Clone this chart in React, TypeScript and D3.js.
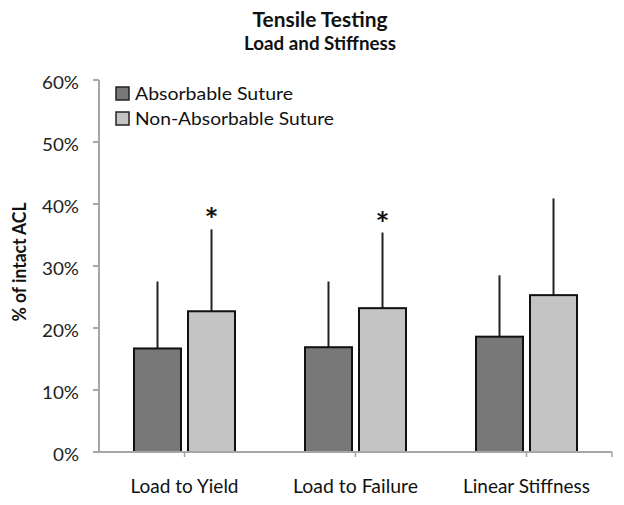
import React from "react";
import * as d3 from "d3";

const categories = ["Load to Yield", "Load to Failure", "Linear Stiffness"];
const categoryLabelWidths = [108, 125, 127];
const seriesNames = ["Absorbable Suture", "Non-Absorbable Suture"];
const legendWidths = [158, 199];
const absorbable = [16.7, 16.9, 18.6];
const absorbableSD = [10.8, 10.6, 9.9];
const nonAbsorbable = [22.7, 23.2, 25.3];
const nonAbsorbableSD = [13.2, 12.2, 15.6];
const significant = [true, true, false];
const yTicks = [0, 10, 20, 30, 40, 50, 60];

const W = 624;
const H = 505;
const FONT = "Lato, 'Open Sans', sans-serif";
const fills = ["#787878", "#c4c4c4"];

export default function App() {
  const x = d3.scaleBand<string>().domain(categories).range([99, 612]);
  const y = d3.scaleLinear().domain([0, 60]).range([452, 80]);
  const x1 = d3
    .scaleBand<string>()
    .domain(seriesNames)
    .range([-50.5, 50.5])
    .paddingInner(0.13);

  const values = [absorbable, nonAbsorbable];
  const sds = [absorbableSD, nonAbsorbableSD];

  const xTickPos = [...categories.map((c) => (x(c) as number) + x.bandwidth() / 2), 612];

  return (
    <svg
      width={W}
      height={H}
      style={{ position: "absolute", left: 0, top: 0, background: "#fff" }}
      fontFamily={FONT}
    >
      <rect width={W} height={H} fill="#fff" />
      {/* Titles */}
      <text
        x={320}
        y={27}
        textAnchor="middle"
        fontWeight="bold"
        fontSize={21}
        fill="#111"
        textLength={135}
        lengthAdjust="spacingAndGlyphs"
      >
        Tensile Testing
      </text>
      <text
        x={320}
        y={50}
        textAnchor="middle"
        fontWeight="bold"
        fontSize={18}
        fill="#111"
        textLength={152}
        lengthAdjust="spacingAndGlyphs"
      >
        Load and Stiffness
      </text>

      {/* Y axis label */}
      <text
        transform={`translate(26,262) rotate(-90)`}
        textAnchor="middle"
        fontWeight="bold"
        fontSize={19}
        fill="#111"
        textLength={119}
        lengthAdjust="spacingAndGlyphs"
      >
        % of intact ACL
      </text>

      {/* Y axis */}
      <line x1={99} x2={99} y1={y(60)} y2={y(0)} stroke="#a6a6a6" strokeWidth={2} />
      {yTicks.map((t) => (
        <g key={t}>
          <line x1={93} x2={99} y1={y(t)} y2={y(t)} stroke="#a6a6a6" strokeWidth={2} />
          <text
            x={79}
            y={y(t) + 9}
            textAnchor="end"
            fontSize={17.5}
            fill="#222"
            textLength={t === 0 ? 26 : 37}
            lengthAdjust="spacingAndGlyphs"
          >
            {t}%
          </text>
        </g>
      ))}

      {/* Bars */}
      {categories.map((c, i) => {
        const cx = (x(c) as number) + x.bandwidth() / 2;
        return (
          <g key={c}>
            {seriesNames.map((s, j) => {
              const bx = cx + (x1(s) as number);
              const bw = x1.bandwidth();
              const v = values[j][i];
              const top = v + sds[j][i];
              return (
                <g key={s}>
                  <line
                    x1={bx + bw / 2}
                    x2={bx + bw / 2}
                    y1={y(v)}
                    y2={y(top)}
                    stroke="#222"
                    strokeWidth={2}
                  />
                  <rect
                    x={bx}
                    y={y(v)}
                    width={bw}
                    height={y(0) - y(v)}
                    fill={fills[j]}
                    stroke="#111"
                    strokeWidth={2}
                  />
                  {j === 1 && significant[i] && (
                    <text
                      x={bx + bw / 2}
                      y={y(top) + 3}
                      textAnchor="middle"
                      fontSize={33}
                      fontWeight="bold"
                      fill="#111"
                    >
                      *
                    </text>
                  )}
                </g>
              );
            })}
          </g>
        );
      })}

      {/* X axis */}
      <line x1={99} x2={612} y1={y(0)} y2={y(0)} stroke="#a6a6a6" strokeWidth={2} />
      {xTickPos.map((p, i) => (
        <line key={i} x1={p} x2={p} y1={y(0)} y2={y(0) + 5} stroke="#a6a6a6" strokeWidth={1.5} />
      ))}
      {categories.map((c, i) => (
        <text
          key={c}
          x={(x(c) as number) + x.bandwidth() / 2}
          y={493}
          textAnchor="middle"
          fontSize={18.5}
          fill="#111"
          textLength={categoryLabelWidths[i]}
          lengthAdjust="spacingAndGlyphs"
        >
          {c}
        </text>
      ))}

      {/* Legend */}
      {seriesNames.map((s, j) => (
        <g key={s} transform={`translate(116,${87 + j * 25})`}>
          <rect x={0} y={0} width={13} height={13} fill={fills[j]} stroke="#222" strokeWidth={1.5} />
          <text
            x={19}
            y={13}
            fontSize={17}
            fill="#111"
            textLength={legendWidths[j]}
            lengthAdjust="spacingAndGlyphs"
          >
            {s}
          </text>
        </g>
      ))}
    </svg>
  );
}
